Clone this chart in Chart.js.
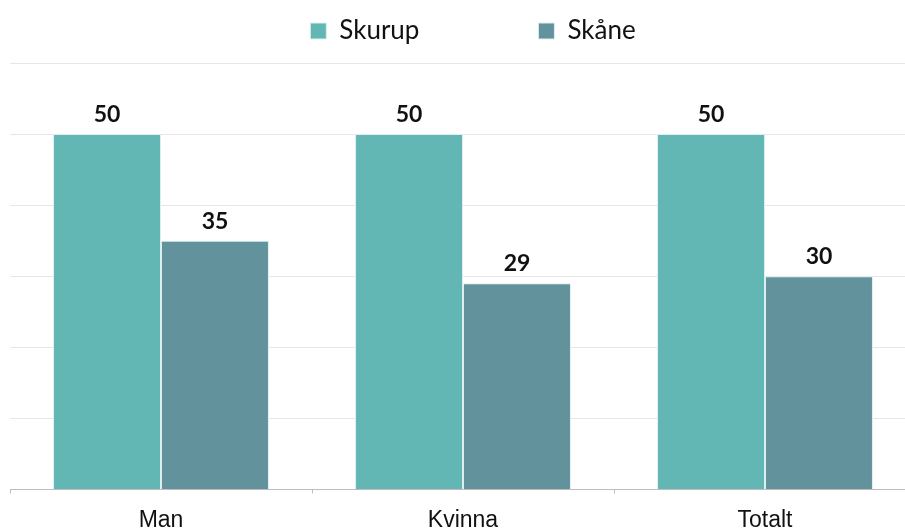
<!DOCTYPE html>
<html>
<head>
<meta charset="utf-8">
<script src="https://cdn.jsdelivr.net/npm/chart.js@4.4.1/dist/chart.umd.min.js"></script>
<style>
  html, body { margin: 0; padding: 0; background: #fff; overflow: hidden; }
  #wrap { width: 916px; height: 532px; position: relative; }
</style>
</head>
<body>
<div id="wrap"><canvas id="barChart"></canvas></div>
<script>
// categories and series
const categories = ['Man', 'Kvinna', 'Totalt'];
const skurupValues = [50, 50, 50];
const skaneValues = [35, 29, 30];
const seriesNames = ['Skurup', 'Skåne'];

// draw the value above each bar
const valueLabels = {
    id: 'valueLabels',
    afterDatasetsDraw(chart) {
        const ctx = chart.ctx;
        ctx.save();
        ctx.font = 'bold 23px Lato, "Open Sans", sans-serif';
        ctx.fillStyle = '#111';
        ctx.textAlign = 'center';
        ctx.textBaseline = 'alphabetic';
        chart.data.datasets.forEach((ds, i) => {
            chart.getDatasetMeta(i).data.forEach((bar, j) => {
                ctx.fillText(ds.data[j], bar.x, bar.y - 12);
            });
        });
        ctx.restore();
    }
};

// a bit more room under the legend, and nudge the row to the right
const legendGap = {
    id: 'legendGap',
    beforeInit(chart) {
        const fit = chart.legend.fit;
        chart.legend.fit = function () {
            fit.bind(chart.legend)();
            this.height += 9;
            if (this.lineWidths) this.lineWidths[0] -= 20;
        };
    }
};

const ctx = document.getElementById('barChart').getContext('2d');
const chart = new Chart(ctx, {
    type: 'bar',
    data: {
        labels: categories,
        datasets: [{
            label: seriesNames[0],
            data: skurupValues,
            backgroundColor: '#62b7b4',
            borderColor: '#dcefee',
            borderWidth: 1
        }, {
            label: seriesNames[1],
            data: skaneValues,
            backgroundColor: '#62939c',
            borderColor: '#dcefee',
            borderWidth: 1
        }]
    },
    options: {
        responsive: true,
        maintainAspectRatio: false,
        animation: false,
        categoryPercentage: 0.715,
        barPercentage: 1,
        layout: { padding: { left: 10, right: 0, top: -101, bottom: -15 } },
        plugins: {
            legend: {
                position: 'top',
                labels: {
                    boxWidth: 16,
                    boxHeight: 16,
                    padding: 119,
                    color: '#111',
                    font: { family: 'Lato, "Open Sans", sans-serif', size: 26 }
                }
            },
            tooltip: { enabled: false }
        },
        scales: {
            x: {
                grid: {
                    drawOnChartArea: false,
                    tickLength: 4,
                    color: '#bdbdbd',
                    offset: true
                },
                border: { color: '#bdbdbd' },
                ticks: {
                    color: '#111',
                    padding: 13,
                    font: { family: '"Liberation Sans", Arial, sans-serif', size: 23 }
                }
            },
            y: {
                min: 0,
                max: 60,
                ticks: { stepSize: 10, display: false },
                grid: { color: '#e6e6e6', drawTicks: false },
                border: { display: false }
            }
        }
    },
    plugins: [valueLabels, legendGap]
});
</script>
</body>
</html>
